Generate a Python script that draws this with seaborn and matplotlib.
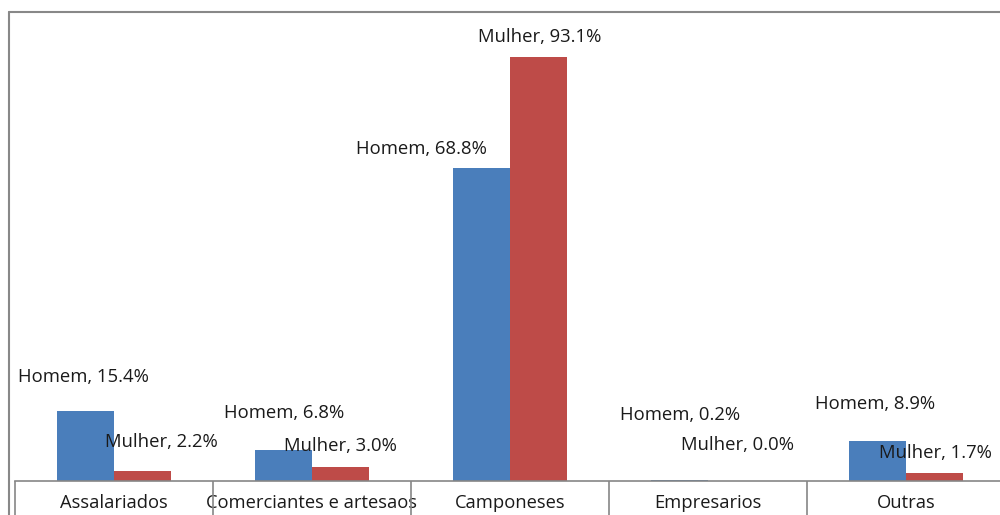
import pandas as pd
import matplotlib.pyplot as plt
import seaborn as sns
from matplotlib.lines import Line2D

categorias = ['Assalariados', 'Comerciantes e artesaos', 'Camponeses', 'Empresarios', 'Outras']
homem = [15.4, 6.8, 68.8, 0.2, 8.9]
mulher = [2.2, 3.0, 93.1, 0.0, 1.7]

# label offsets in pixels from the top centre of each bar (Excel-style hand-placed labels)
off_homem = [(-2, 34), (1, 37), (-60, 19), (1, 65), (-2, 37)]
off_mulher = [(19, 29), (0, 21), (1, 20), (1, 36), (1, 20)]

df = pd.DataFrame({
    'Categoria': categorias * 2,
    'Valor': homem + mulher,
    'Sexo': ['Homem'] * len(categorias) + ['Mulher'] * len(categorias),
})

sns.set_style('white')
plt.rcParams['font.family'] = ['Open Sans', 'DejaVu Sans']

fig = plt.figure(figsize=(10, 5.15), dpi=100)
ax = fig.add_axes([0.015, 1 - 481 / 515, 0.99, (481 - 26) / 515])

sns.barplot(data=df, x='Categoria', y='Valor', hue='Sexo', order=categorias,
            palette=['#4a7ebb', '#be4b48'], width=0.576, gap=0, saturation=1,
            linewidth=0, legend=False, ax=ax)

ax.set_ylim(0, 100)
ax.set_xlim(-0.5, len(categorias) - 0.5)
ax.set_xlabel('')
ax.set_ylabel('')
ax.set_yticks([])
for s in ['top', 'right', 'left']:
    ax.spines[s].set_visible(False)
ax.spines['bottom'].set_color('#868686')
ax.spines['bottom'].set_linewidth(1.2)

ax.tick_params(axis='x', which='major', bottom=False, length=0, pad=9,
               labelsize=13.2, labelcolor='#1a1a1a')
ax.set_xticks([i - 0.5 for i in range(len(categorias) + 1)], minor=True)
ax.tick_params(axis='x', which='minor', bottom=True, length=40, color='#868686', width=1.2)

bars = ax.patches
n = len(categorias)
for i in range(n):
    for b, val, off, nome in [(bars[i], homem[i], off_homem[i], 'Homem'),
                              (bars[n + i], mulher[i], off_mulher[i], 'Mulher')]:
        ax.annotate(f'{nome}, {val:.1f}%', (b.get_x() + b.get_width() / 2, b.get_height()),
                    xytext=off, textcoords='offset pixels', ha='center', va='center',
                    fontsize=13.3, color='#1a1a1a', annotation_clip=False)

# outer chart frame
fig.add_artist(Line2D([9 / 1000, 9 / 1000], [0, 1 - 12 / 515], transform=fig.transFigure,
                      color='#888888', lw=1.5))
fig.add_artist(Line2D([9 / 1000, 1], [1 - 12 / 515, 1 - 12 / 515], transform=fig.transFigure,
                      color='#888888', lw=1.5))

fig.savefig('out.png', dpi=100)
